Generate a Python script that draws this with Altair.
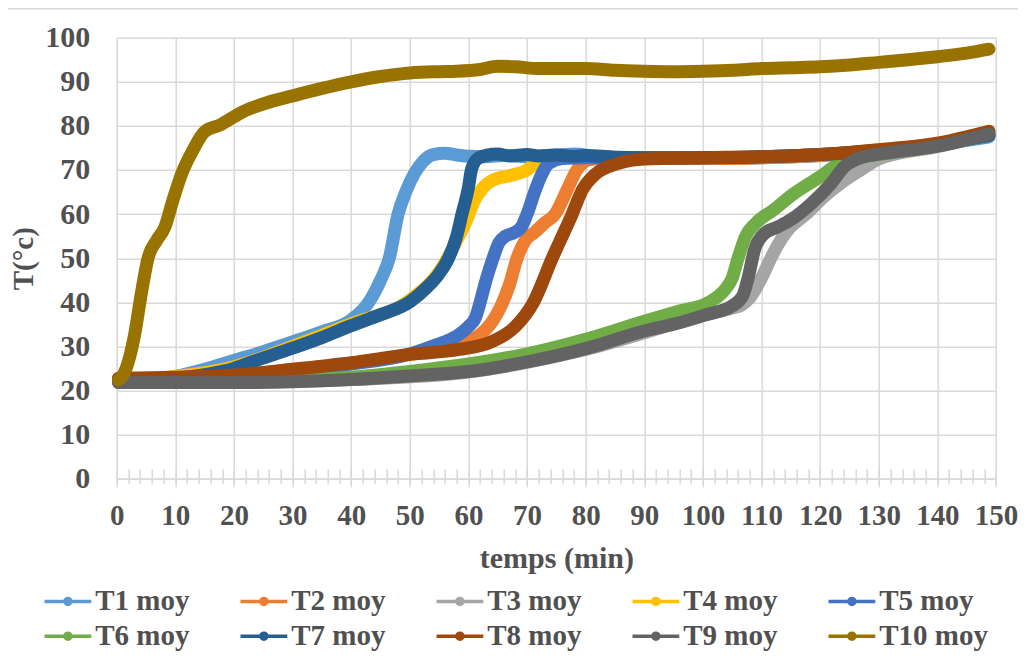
import altair as alt
import pandas as pd

names = ["T1 moy", "T2 moy", "T3 moy", "T4 moy", "T5 moy",
         "T6 moy", "T7 moy", "T8 moy", "T9 moy", "T10 moy"]
colors = ["#5B9BD5", "#ED7D31", "#A5A5A5", "#FFC000", "#4472C4",
          "#70AD47", "#255E91", "#9E480E", "#636363", "#997300"]

t1 = [0.3, 5, 10, 15, 20, 25, 30, 35, 40, 43, 45, 46.5, 48, 49.3, 50.7, 52.3, 54, 56, 58, 60, 63, 66, 70, 75, 78, 82, 90, 100, 110, 120, 130, 140, 148.8]
v1 = [22.3, 22.5, 23.2, 24.8, 26.8, 28.8, 31, 33.3, 36, 40, 45, 50, 60, 65, 69, 72, 73.5, 73.8, 73.4, 73.1, 73, 73.3, 73, 73.4, 73.6, 73, 72.6, 72.6, 72.8, 73.3, 74.2, 75.8, 77.5]

t2 = [0.3, 10, 20, 30, 40, 50, 55, 58.4, 61.8, 64, 65.5, 67, 68.3, 69.7, 71.4, 73, 74.8, 76.8, 78.5, 80.5, 84, 90, 100, 110, 120, 130, 140, 148.8]
v2 = [22.5, 22.8, 23.4, 24.7, 26.2, 28.2, 29.5, 30.8, 32.5, 35.5, 39, 44, 50, 54, 56, 58, 60, 65.4, 70, 72.3, 72.8, 72.6, 72.6, 72.8, 73.3, 74.4, 75.9, 78.2]

t3 = [0.3, 20, 40, 60, 80, 100, 105, 106.5, 108, 110, 111.6, 113, 114.5, 117.6, 120.7, 123.5, 126.9, 130, 140, 148.8]
v3 = [21.9, 21.9, 22.5, 24.2, 29.3, 37, 38.7, 39.3, 41, 45.5, 50, 53.5, 56.4, 60, 64, 67, 70, 72.5, 75.3, 78]

t4 = [0.3, 10, 20, 30, 40, 50, 55, 56.6, 58, 59.5, 61, 62.5, 64, 67, 70, 72, 75, 80, 90, 100, 110, 120, 130, 140, 148.8]
v4 = [22.5, 23.2, 25.4, 30, 35.1, 40.5, 46.9, 50.4, 54, 58, 63, 66, 67.6, 68.7, 70, 72, 72.8, 73, 72.8, 72.8, 73, 73.5, 74.6, 75.9, 77.8]

t5 = [0.3, 10, 20, 30, 40, 50, 54.4, 57.8, 60, 61.2, 62, 63, 64.2, 65.2, 66.3, 67.5, 69, 70, 71.4, 72.5, 73.7, 76, 80, 90, 100, 110, 120, 130, 140, 148.8]
v5 = [22.5, 22.8, 23.3, 24.5, 26, 28.3, 30.3, 32.2, 34.5, 36.5, 40, 45, 50, 53.5, 55, 55.6, 57, 60, 65.4, 69, 71.5, 72.6, 72.8, 72.8, 72.8, 73, 73.5, 74.5, 75.8, 78]

t6 = [0.3, 20, 30, 40, 50, 60, 70, 80, 90, 96, 101, 103.5, 105, 106, 107.3, 109, 112, 115.6, 120, 122.5, 125, 130, 140, 148.8]
v6 = [22, 22, 22.3, 23, 24.3, 26, 28.3, 31.6, 35.7, 38, 40, 42.5, 45.5, 50, 55, 57.9, 60.9, 64.7, 68.5, 70.8, 72.4, 73.5, 75.5, 78]

t7 = [0.3, 5, 10, 15, 20, 22.7, 30, 35, 40, 45, 50, 53, 55, 56.6, 58, 58.9, 60, 60.5, 61.5, 63, 65, 67, 70, 72, 75, 78, 80, 85, 90, 100, 110, 120, 130, 140, 148.8]
v7 = [22.4, 22.5, 22.8, 23.6, 25, 26.3, 29.6, 32, 34.7, 37.2, 40.1, 43.5, 46.5, 50, 55, 60, 66, 70, 72.5, 73.3, 73.6, 73.2, 73.5, 73.2, 73.4, 73.1, 73.3, 72.9, 72.8, 72.8, 73, 73.5, 74.4, 75.9, 77.8]

t8 = [0.3, 10, 20, 30, 40, 50, 58.4, 64, 68, 71.1, 74.3, 77.7, 79.4, 81.6, 85.6, 90, 100, 110, 120, 130, 140, 148.8]
v8 = [22.8, 23, 23.5, 24.8, 26.3, 28.2, 29.3, 31.1, 34.5, 40, 50, 60, 65.4, 69, 71.5, 72.5, 72.8, 73, 73.5, 74.6, 76.1, 78.8]

t9 = [0.3, 20, 30, 40, 50, 60, 70, 80, 90, 95.8, 100.3, 105, 106.8, 107.8, 108.8, 110.5, 112.8, 115, 118.5, 121.9, 124.1, 127.5, 130, 140, 148.8]
v9 = [21.8, 21.8, 22, 22.5, 23.3, 24.3, 26.5, 29.5, 33.5, 35.3, 37.1, 39.2, 41.5, 46, 51.9, 55.6, 57.1, 58.7, 62.4, 67, 70.7, 73, 73.6, 75.4, 78.2]

t10 = [0.3, 1.1, 3.1, 4.2, 5.4, 6.8, 8.2, 9.6, 11.1, 13, 15, 17.6, 21.5, 25.5, 30, 35, 40, 45, 50, 55, 58, 62, 65, 68, 72, 80, 85, 90, 95, 100, 105, 110, 115, 120, 125, 130, 135, 140, 145, 148.8]
v10 = [22.4, 23.5, 33, 42, 50.3, 54, 57, 63.2, 69.2, 74.5, 78.7, 80.2, 83.2, 85.2, 86.8, 88.5, 90, 91.2, 92, 92.3, 92.4, 92.8, 93.5, 93.4, 93, 93, 92.6, 92.4, 92.3, 92.4, 92.6, 93, 93.2, 93.4, 93.8, 94.4, 95, 95.7, 96.5, 97.4]

x_major = list(range(0, 151, 10))
x_minor = list(range(0, 151, 2))
y_ticks = list(range(0, 101, 10))

series = [(t1, v1), (t2, v2), (t3, v3), (t4, v4), (t5, v5),
          (t6, v6), (t7, v7), (t8, v8), (t9, v9), (t10, v10)]

FONT = "Liberation Serif, Times New Roman, serif"
TXT = "#505050"
GRID = "#D9D9D9"

x_scale = alt.Scale(domain=[0, 150], nice=False, zero=False)
y_scale = alt.Scale(domain=[0, 100], nice=False)
c_scale = alt.Scale(domain=names, range=colors)

main_x_axis = alt.Axis(
    orient="bottom",
    values=x_major, title="temps (min)", grid=True, gridColor=GRID, gridWidth=1.5,
    domainColor=GRID, domainWidth=1.5, tickColor=GRID, tickWidth=1.5, tickSize=8,
    labelFont=FONT, labelFontSize=29, labelFontWeight="bold", labelColor=TXT,
    labelPadding=15, labelFlush=False,
    titleFont=FONT, titleFontSize=30, titleFontWeight="bold", titleColor=TXT,
    titlePadding=13,
)
minor_x_axis = alt.Axis(
    orient="bottom",
    values=x_minor, title=None, grid=False, domain=False, labels=False,
    tickColor=GRID, tickWidth=1.5, tickSize=15, offset=-10,
)
y_axis = alt.Axis(
    orient="left",
    values=y_ticks, title="T(°c)", grid=True, gridColor=GRID, gridWidth=1.5,
    domain=False, ticks=False,
    labelFont=FONT, labelFontSize=30, labelFontWeight="bold", labelColor=TXT,
    labelPadding=27,
    titleFont=FONT, titleFontSize=29, titleFontWeight="bold", titleColor=TXT,
    titleX=-78,
)

# legend symbol: short line with a dot, drawn wider than its nominal size
sym = ("M-3.9,0H3.9"
       "M-0.5,0a0.5,0.5 0 1,0 1,0a0.5,0.5 0 1,0 -1,0"
       "M-0.25,0a0.25,0.25 0 1,0 0.5,0a0.25,0.25 0 1,0 -0.5,0")
legend = alt.Legend(
    title=None, orient="none", legendX=-78.7, legendY=549, direction="horizontal",
    columns=5, gridAlign="all", symbolType=sym, symbolSize=144, symbolStrokeWidth=3.5,
    symbolOffset=15.4,
    labelFont=FONT, labelFontSize=29, labelFontWeight="bold", labelColor=TXT,
    labelOffset=12.8, columnPadding=29, rowPadding=5, labelLimit=300,
)

layers = []
for i, (name, (ts, vs)) in enumerate(zip(names, series)):
    df = pd.DataFrame({"t": ts, "T": vs, "serie": name})
    layers.append(
        alt.Chart(df).mark_line(strokeWidth=13, strokeCap="round", strokeJoin="round",
                                interpolate="monotone").encode(
            x=alt.X("t:Q", scale=x_scale, axis=main_x_axis if i == 0 else None),
            y=alt.Y("T:Q", scale=y_scale, axis=y_axis),
            color=alt.Color("serie:N", scale=c_scale, legend=legend),
        )
    )

minor_df = pd.DataFrame({"t": x_minor})
minor_layer = alt.Chart(minor_df).mark_point(opacity=0).encode(
    x=alt.X("t:Q", scale=x_scale, axis=minor_x_axis),
)

border = alt.Chart(pd.DataFrame({"a": [0]})).mark_rule(color=GRID, strokeWidth=1.5).encode(
    x=alt.value(-109), x2=alt.value(910), y=alt.value(-29)
)

chart = alt.layer(minor_layer, *layers, border).resolve_axis(x="independent").properties(
    width=879.3, height=441,
    padding={"left": 108.7, "top": 29.7, "right": 22, "bottom": 172},
    autosize=alt.AutoSizeParams(type="none"),
).configure_view(stroke=None).configure(background="white")

chart.save("out.html", embed_options={"renderer": "svg", "actions": False})
